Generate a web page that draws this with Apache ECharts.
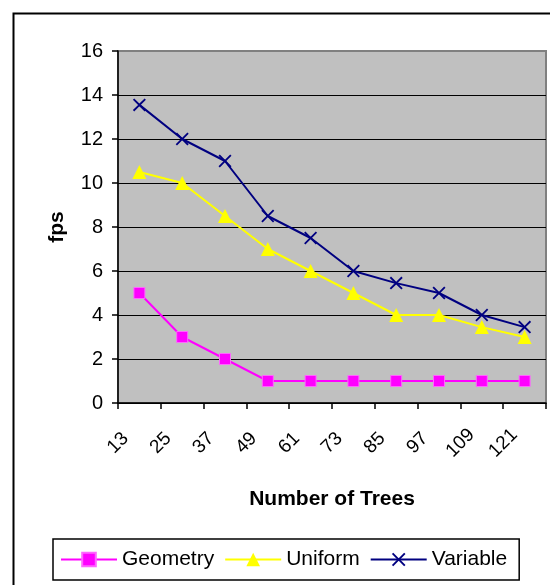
<!DOCTYPE html>
<html>
<head>
<meta charset="utf-8">
<script src="https://cdn.jsdelivr.net/npm/echarts@6/dist/echarts.min.js"></script>
<style>
  html, body { margin: 0; padding: 0; background: #fff; }
  #chart { width: 550px; height: 585px; }
</style>
</head>
<body>
<div id="chart"></div>
<script>
var trees = ['13', '25', '37', '49', '61', '73', '85', '97', '109', '121'];
var geometry = [5, 3, 2, 1, 1, 1, 1, 1, 1, 1];
var uniform = [10.5, 10, 8.5, 7, 6, 5, 4, 4, 3.45, 3];
var variable = [13.55, 12, 11, 8.5, 7.5, 6, 5.45, 5, 4, 3.45];

var font = 'Liberation Sans, Arial, sans-serif';
var crossPath = 'path://M0,1L1,0L5,4L9,0L10,1L6,5L10,9L9,10L5,6L1,10L0,9L4,5Z';

var option = {
  backgroundColor: '#fff',
  animation: false,
  textStyle: { fontFamily: font },
  graphic: [{
    type: 'rect',
    left: 11,
    top: 11,
    shape: { width: 600, height: 600 },
    style: { fill: 'none', stroke: '#000', lineWidth: 2 }
  }],
  grid: {
    left: 118,
    right: 4,
    top: 51,
    bottom: 182,
    show: true,
    backgroundColor: '#c0c0c0',
    borderColor: '#808080',
    borderWidth: 2
  },
  legend: {
    left: 53,
    top: 539,
    padding: [10, 12, 10, 7],
    itemGap: 10,
    itemWidth: 56,
    itemHeight: 17,
    borderColor: '#000',
    borderWidth: 1.5,
    textStyle: { fontSize: 21, color: '#000', fontFamily: font },
    data: ['Geometry', 'Uniform', 'Variable']
  },
  xAxis: [{
    type: 'category',
    data: trees,
    boundaryGap: true,
    name: 'Number of Trees',
    nameLocation: 'middle',
    nameGap: 86,
    nameTextStyle: { fontSize: 21, fontWeight: 'bold', color: '#000' },
    axisLine: { lineStyle: { color: '#000', width: 1.5 } },
    axisTick: { show: true, length: 6, lineStyle: { color: '#000', width: 1.5 } },
    axisLabel: { show: false },
    splitLine: { show: false }
  }, {
    // label-only axis: Excel puts the rotated labels on the tick marks
    type: 'category',
    data: trees.concat(['']),
    boundaryGap: false,
    position: 'bottom',
    axisLine: { show: false },
    axisTick: { show: false },
    splitLine: { show: false },
    axisLabel: {
      interval: 0,
      rotate: 45,
      align: 'center',
      verticalAlign: 'middle',
      margin: 40,
      fontSize: 19,
      color: '#000'
    }
  }],
  yAxis: {
    type: 'value',
    min: 0,
    max: 16,
    interval: 2,
    name: 'fps',
    nameLocation: 'middle',
    nameGap: 50,
    nameTextStyle: { fontSize: 21, fontWeight: 'bold', color: '#000' },
    axisLine: { show: true, lineStyle: { color: '#000', width: 1.5 } },
    axisTick: { show: true, length: 6, lineStyle: { color: '#000', width: 1.5 } },
    axisLabel: { fontSize: 20, color: '#000', margin: 15 },
    splitLine: { show: true, showMaxLine: false, lineStyle: { color: '#000', width: 1 } }
  },
  series: [{
    name: 'Geometry',
    type: 'line',
    data: geometry,
    symbol: 'rect',
    symbolSize: 11,
    color: '#ff00ff',
    lineStyle: { width: 2, color: '#ff00ff' },
    itemStyle: { color: '#ff00ff', borderColor: '#ff66ff', borderWidth: 1 }
  }, {
    name: 'Uniform',
    type: 'line',
    data: uniform,
    symbol: 'triangle',
    symbolSize: 14,
    color: '#ffff00',
    lineStyle: { width: 2, color: '#ffff00' },
    itemStyle: { color: '#ffff00' }
  }, {
    name: 'Variable',
    type: 'line',
    data: variable,
    symbol: crossPath,
    symbolSize: 13,
    color: '#000080',
    lineStyle: { width: 2, color: '#000080' },
    itemStyle: { color: '#000080' }
  }]
};

var chart = echarts.init(document.getElementById('chart'));
chart.setOption(option);
</script>
</body>
</html>
